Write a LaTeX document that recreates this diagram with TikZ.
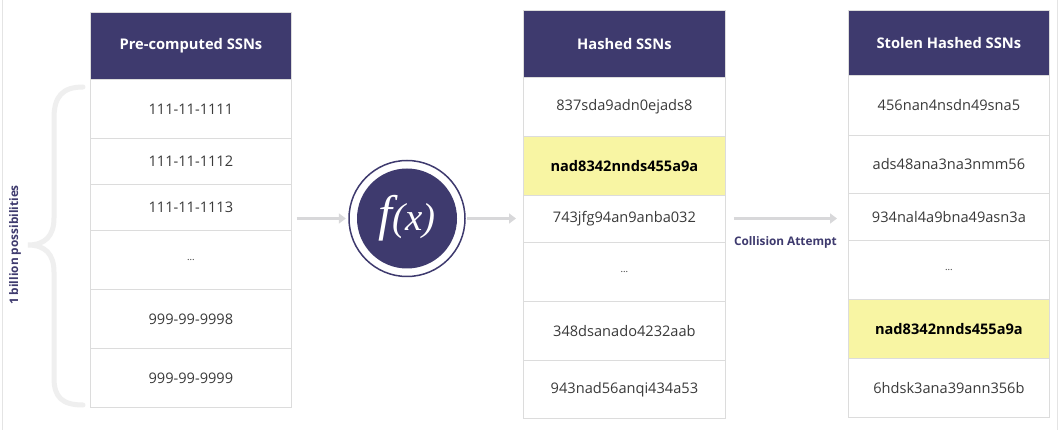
\documentclass[tikz,border=0pt]{standalone}
\usepackage{fontspec}
\setmainfont{Open Sans}
\usetikzlibrary{arrows.meta}
\definecolor{hdrc}{HTML}{3E3A6E}
\definecolor{bordc}{HTML}{DCDCDC}
\definecolor{txtc}{HTML}{3A3A3A}
\definecolor{yelc}{HTML}{F8F5A3}
\definecolor{arrc}{HTML}{D8D8DA}
\definecolor{bracec}{HTML}{EFEFEF}
\definecolor{framec}{HTML}{E4E4E4}
\tikzset{
  hdr/.style={rectangle, fill=hdrc, draw=bordc, line width=0.8pt, text=white, inner sep=0pt, anchor=north west,
    font=\fontsize{14.7}{16}\selectfont\bfseries},
  cell/.style={rectangle, fill=white, draw=bordc, line width=0.8pt, text=txtc, inner sep=0pt, anchor=north west,
    font=\fontsize{14.6}{16}\selectfont},
  hl/.style={cell, fill=yelc, text=black, font=\fontsize{14.6}{16}\selectfont\bfseries},
  dots/.style={cell, font=\fontsize{9.5}{10}\selectfont},
  arr/.style={arrc, line width=3pt, -{Triangle[length=7pt,width=10pt]}},
  lbl/.style={text=hdrc, font=\fontsize{11.8}{13}\selectfont\bfseries, inner sep=0pt}
}
\begin{document}
\begin{tikzpicture}[x=1pt,y=-1pt]
\useasboundingbox (0,0) rectangle (1060,430);
\fill[white] (0,0) rectangle (1060,430);
\draw[framec, line width=1pt] (2.5,0) -- (2.5,430);
\draw[framec, line width=1pt] (1057.5,0) -- (1057.5,430);

% brace
\draw[bracec, line width=5pt, line cap=round]
  (83,87) .. controls (62,87) and (54,97) .. (54,118) -- (54,218)
  .. controls (54,236) and (45,245) .. (28,245)
  .. controls (45,245) and (54,254) .. (54,272) -- (54,378)
  .. controls (54,397) and (62,405) .. (83,405);
\node[lbl, rotate=90] (lab1) at (15,245) {1 billion possibilities};

% table 1
\begin{scope}[every node/.append style={minimum width=201pt}]
\node[hdr, minimum height=67pt] (h1) at (90,12) {Pre-computed SSNs};
\node[cell, minimum height=59pt] (a1) at (90,79) {111-11-1111};
\node[cell, minimum height=46pt] (a2) at (90,138) {111-11-1112};
\node[cell, minimum height=46pt] (a3) at (90,184) {111-11-1113};
\node[dots, minimum height=59pt] (a4) at (90,230) {...};
\node[cell, minimum height=59pt] (a5) at (90,289) {999-99-9998};
\node[cell, minimum height=59pt] (a6) at (90,348) {999-99-9999};
\end{scope}

% table 2
\begin{scope}[every node/.append style={minimum width=202pt}]
\node[hdr, minimum height=67pt] (h2) at (523,10) {Hashed SSNs};
\node[cell, minimum height=59pt] (b1) at (523,77) {837sda9adn0ejads8};
\node[hl, minimum height=59pt] (b2) at (523,136) {nad8342nnds455a9a};
\node[cell, minimum height=47pt] (b3) at (523,195) {743jfg94an9anba032};
\node[dots, minimum height=59pt] (b4) at (523,242) {...};
\node[cell, minimum height=59pt] (b5) at (523,301) {348dsanado4232aab};
\node[cell, minimum height=58pt] (b6) at (523,360) {943nad56anqi434a53};
\end{scope}

% table 3
\begin{scope}[every node/.append style={minimum width=201pt}]
\node[hdr, minimum height=65pt] (h3) at (848,10) {Stolen Hashed SSNs};
\node[cell, minimum height=60pt] (c1) at (848,75) {456nan4nsdn49sna5};
\node[cell, minimum height=58pt] (c2) at (848,135) {ads48ana3na3nmm56};
\node[cell, minimum height=47pt] (c3) at (848,193) {934nal4a9bna49asn3a};
\node[dots, minimum height=59pt] (c4) at (848,240) {...};
\node[hl, minimum height=59pt] (c5) at (848,299) {nad8342nnds455a9a};
\node[cell, minimum height=59pt] (c6) at (848,358) {6hdsk3ana39ann356b};
\end{scope}

% function circle
\node[circle, fill=hdrc, minimum size=100pt, inner sep=0pt, text=white] (fx) at (407,218.5)
  {\raisebox{-2pt}{\fontspec{Liberation Serif}\itshape\fontsize{50}{50}\selectfont f\kern0.5pt\fontsize{39}{39}\selectfont(x)}};
\draw[hdrc, line width=1.5pt] (fx.center) circle[radius=58pt];

% arrows
\coordinate (p1) at ([xshift=5pt]a3.east |- fx.center);
\coordinate (p2) at ([xshift=-11pt]fx.west);
\draw[arr] (p1) -- (p2);
\coordinate (p3) at ([xshift=10pt]fx.east);
\coordinate (p4) at ([xshift=-7pt]b3.west |- fx.center);
\draw[arr] (p3) -- (p4);
\coordinate (p5) at ([xshift=8pt]b3.east |- fx.center);
\coordinate (p6) at ([xshift=-11pt]c3.west |- fx.center);
\draw[arr] (p5) -- node[lbl, below=17pt] (col) {Collision Attempt} (p6);
\end{tikzpicture}
\end{document}
